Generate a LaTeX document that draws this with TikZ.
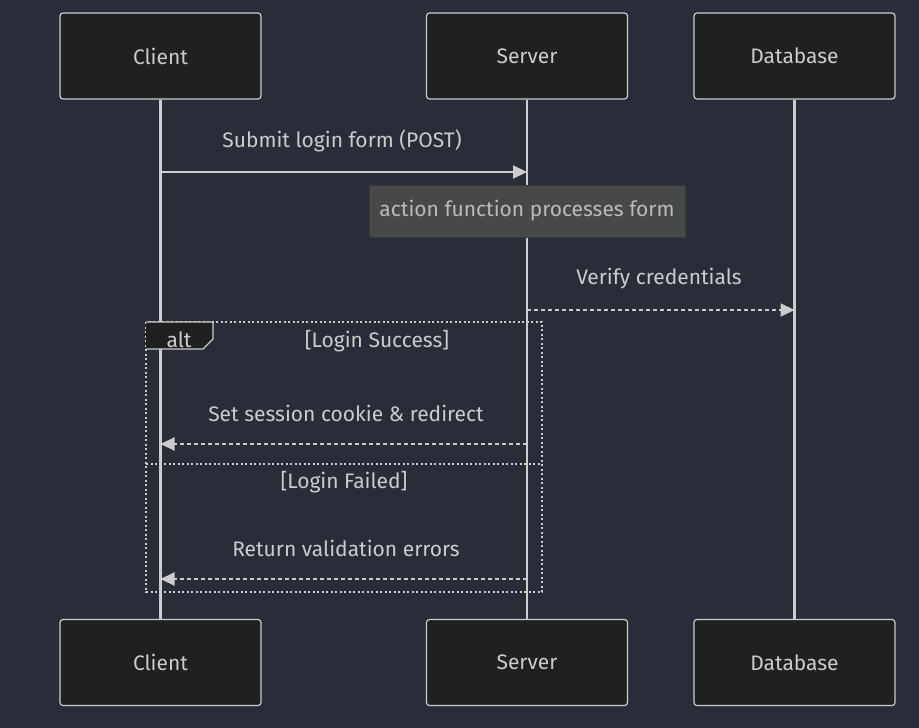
\documentclass[tikz,border=0pt]{standalone}
\usepackage{fontspec}
\setmainfont{Fira Sans}
\usetikzlibrary{arrows.meta}
\definecolor{bg}{HTML}{292D3A}
\definecolor{actfill}{HTML}{1F2020}
\definecolor{ln}{HTML}{CCCCCC}
\definecolor{notefill}{HTML}{474949}
\definecolor{notetext}{HTML}{BBBBBB}
\begin{document}
\begin{tikzpicture}[x=1pt,y=-1pt,
  actor/.style={draw=ln,fill=actfill,rounded corners=3pt,line width=1.2pt,minimum width=201pt,minimum height=86pt,text=ln,font=\fontsize{21}{25}\selectfont},
  life/.style={draw=ln,line width=2.2pt},
  msg/.style={text=ln,font=\fontsize{21}{25}\selectfont},
  solidmsg/.style={draw=ln,line width=2.2pt,-{Triangle[length=14pt,width=13pt]}},
  dashmsg/.style={draw=ln,line width=2.2pt,dash pattern=on 4pt off 3pt,-{Triangle[length=14pt,width=13pt]}},
  loopbox/.style={draw=ln,line width=2.4pt,dash pattern=on 2pt off 2.5pt}
]
\fill[bg] (0,0) rectangle (919,728);
\useasboundingbox (0,0) rectangle (919,728);
% actors
\node[actor] (ct) at (160.5,56) {Client};
\node[actor] (st) at (527,56) {Server};
\node[actor] (dt) at (794.5,56) {Database};
\node[actor] (cb) at (160.5,662.5) {Client};
\node[actor] (sb) at (527,662.5) {Server};
\node[actor] (db) at (794.5,662.5) {Database};
% lifelines
\draw[life] (ct.south) -- (cb.north);
\draw[life] (st.south) -- (sb.north);
\draw[life] (dt.south) -- (db.north);
% message anchors
\coordinate (c1) at (160.5,172);
\coordinate (s1) at (527,172);
\coordinate (s2) at (527,310);
\coordinate (d2) at (794.5,310);
\coordinate (s3) at (527,444);
\coordinate (c3) at (160.5,444);
\coordinate (s4) at (527,579);
\coordinate (c4) at (160.5,579);
% note
\node[draw=notefill!80!black,fill=notefill,line width=1pt,minimum width=316pt,minimum height=52pt,text=notetext,font=\fontsize{21}{25}\selectfont] (note) at (527,211) {\raisebox{-2pt}{action function processes form}};
% messages
\node[msg] (m1) at (342,141) {Submit login form (POST)};
\draw[solidmsg] (c1) -- (s1);
\node[msg] (m2) at (659,279) {Verify credentials};
\draw[dashmsg] (s2) -- (d2);
% alt box
\draw[loopbox] (146,322) rectangle (542,592);
\draw[loopbox] (146,464) -- (542,464);
\fill[actfill] (146,322) -- (213,322) -- (213,339) -- (203,349) -- (146,349) -- cycle;
\draw[ln,line width=1.2pt] (146,322) -- (213,322) -- (213,339) -- (203,349) -- (146,349);
\node[msg] (alt) at (179,340) {alt};
\node[msg] (g1) at (377,341) {[Login Success]};
\node[msg] (g2) at (344,482) {[Login Failed]};
\node[msg] (m3) at (346,413) {Set session cookie \& redirect};
\draw[dashmsg] (s3) -- (c3);
\node[msg] (m4) at (346,548) {Return validation errors};
\draw[dashmsg] (s4) -- (c4);
\end{tikzpicture}
\end{document}
